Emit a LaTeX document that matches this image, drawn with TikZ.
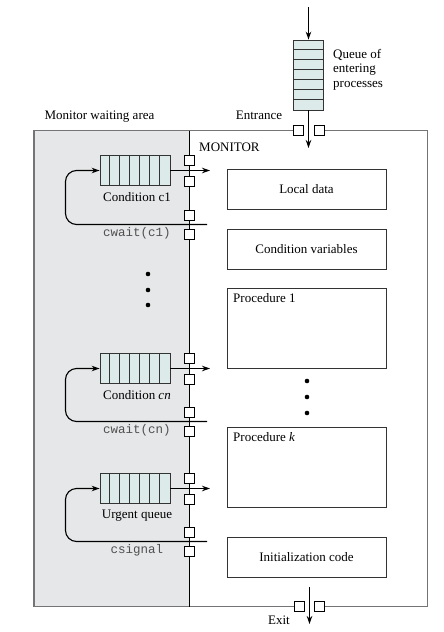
\documentclass[tikz,border=0pt]{standalone}
\usepackage{fontspec}
\setmainfont{Liberation Serif}
\setmonofont{Liberation Mono}
\usetikzlibrary{arrows.meta,calc}
\definecolor{qfill}{HTML}{DCEBEA}
\definecolor{wgray}{HTML}{E6E7E8}
\definecolor{bgray}{HTML}{747476}
\definecolor{tgray}{HTML}{505050}
\begin{document}
\begin{tikzpicture}[x=1pt,y=-1pt,
  txt/.style={font=\fontsize{13}{14.5}\selectfont, inner sep=0pt},
  mono/.style={font=\fontsize{12.5}{14}\selectfont\ttfamily, text=tgray, inner sep=0pt},
  hq/.style={draw=black!80, fill=qfill, minimum width=70pt, minimum height=30pt, inner sep=0pt, line width=0.8pt},
  vq/.style={draw=black!80, fill=qfill, minimum width=30pt, minimum height=70pt, inner sep=0pt, line width=0.8pt},
  sq/.style={draw=black, fill=white, minimum size=10pt, inner sep=0pt, line width=0.8pt},
  part/.style={draw=black!80, line width=0.8pt, inner sep=0pt, minimum width=159pt, font=\fontsize{13}{14.5}\selectfont},
  arr/.style={-{Stealth[length=8pt,width=5.5pt]}, line width=1.1pt},
  border/.style={draw=bgray, line width=1.2pt},
  dot/.style={fill=black}
]
\useasboundingbox (0,0) rectangle (444,632);

% waiting area
\fill[wgray] (34,130.5) rectangle (189.5,606.5);
\draw[bgray, line width=1.8pt] (189.5,130.5) -- (34,130.5) -- (34,606.5) -- (189.5,606.5);

% wall
\draw[black, line width=0.9pt] (189.5,130.5) -- (189.5,606.5);

% entrance / exit squares
\node[sq] (en1) at (298.5,130.5) {};
\node[sq] (en2) at (319.5,130.5) {};
\node[sq] (ex1) at (299.5,606.5) {};
\node[sq] (ex2) at (319.5,606.5) {};

\draw[border] (189.5,130.5) -- (en1.west);
\draw[border] (en2.east) -- (427.5,130.5) -- (427.5,606.5) -- (ex2.east);
\draw[border] (ex1.west) -- (189.5,606.5);

% entering queue
\node[vq] (eq) at (308.5,75) {};
\foreach \i in {1,...,6} \draw[black!80, line width=0.7pt] ($(eq.north west)+(0,\i*10)$) -- ++(30,0);
\coordinate (etop) at (308.5,7);
\coordinate (ein) at (308.5,148);
\draw[arr] (etop) -- (eq.north);
\draw[arr] (eq.south) -- (ein);
\node[txt, anchor=north west, align=left] (qlab) at (333,49) {Queue of\\entering\\processes};
\node[txt] (entl) at (259,115) {Entrance};

% exit
\coordinate (xtop) at (309.5,587);
\coordinate (xbot) at (309.5,624);
\draw[arr] (xtop) -- (xbot);
\node[txt] (exl) at (279,620) {Exit};

\node[txt] (mwa) at (99.5,117) {Monitor waiting area};
\node[txt, anchor=west] (mon) at (199,147) {MONITOR};

% queues
\foreach \n/\ay/\ly/\lab/\mlab in {c1/170.5/224.5/{Condition c1}/{cwait(c1)}, cn/368.5/421.5/{Condition \textit{cn}}/{cwait(cn)}, uq/488.5/541.5/{Urgent queue}/{csignal}} {
  \node[hq] (q\n) at (135,\ay) {};
  \foreach \i in {1,...,6} \draw[black!80, line width=0.7pt] ($(q\n.north west)+(\i*10,0)$) -- ++(0,30);
  \node[sq] (s1\n) at (189.5,\ay-10) {};
  \node[sq] (s2\n) at (189.5,\ay+11) {};
  \node[sq] (s3\n) at (189.5,\ly-9) {};
  \node[sq] (s4\n) at (189.5,\ly+10) {};
  \coordinate (o\n) at (210,\ay);
  \coordinate (l\n) at (207,\ly);
  \draw[arr] (q\n.east) -- (o\n);
  \draw[arr, rounded corners=11pt] (l\n) -- (65.5,\ly) -- (65.5,\ay) -- (q\n.west);
  \node[txt] (t\n) at (137,\ay+27) {\lab};
  \node[mono] (m\n) at (137,\ly+9) {\mlab};
}

% parts
\node[part, minimum height=40pt] (ld) at (306.5,189) {Local data};
\node[part, minimum height=40pt] (cv) at (306.5,249) {Condition variables};
\node[part, minimum height=80pt] (p1) at (306.5,328) {};
\node[txt, anchor=west] (p1l) at (233,298) {Procedure 1};
\node[part, minimum height=80pt] (pk) at (306.5,467) {};
\node[txt, anchor=west] (pkl) at (233,437) {Procedure \textit{k}};
\node[part, minimum height=40pt] (ic) at (306.5,557) {Initialization code};

% dots
\foreach \y in {274,290,305} \fill[dot] (148,\y) circle (2.3pt);
\foreach \y in {381,397,413} \fill[dot] (307,\y) circle (2.3pt);
\end{tikzpicture}
\end{document}
